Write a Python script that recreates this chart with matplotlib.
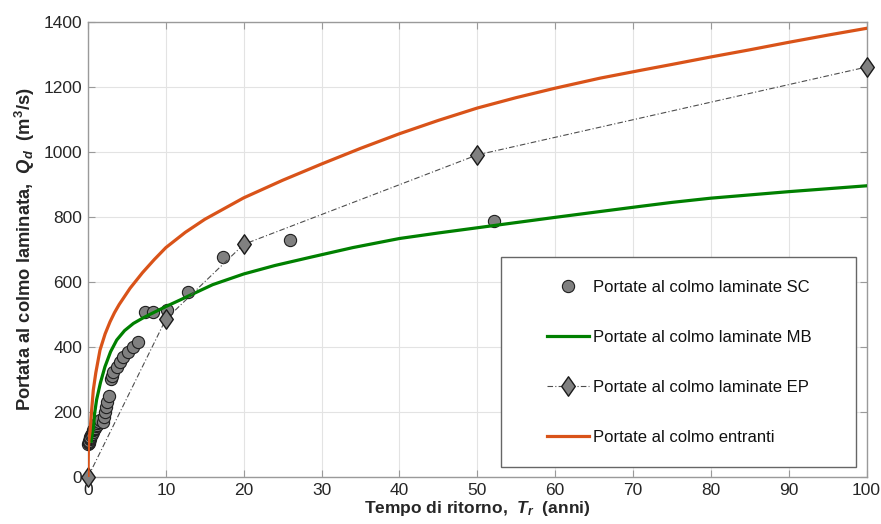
import numpy as np
import matplotlib
matplotlib.use('Agg')
import matplotlib.pyplot as plt
from matplotlib.patches import Rectangle
from matplotlib.path import Path

plt.rcParams['font.family'] = ['Liberation Sans', 'DejaVu Sans']
plt.rcParams['mathtext.fontset'] = 'custom'
plt.rcParams['mathtext.rm'] = 'Liberation Sans:bold'
plt.rcParams['mathtext.it'] = 'Liberation Sans:italic:bold'
plt.rcParams['mathtext.bf'] = 'Liberation Sans:bold'

# portate laminate SC (punti)
T_sc = [0.05, 0.08, 0.1, 0.15, 0.2, 0.25, 0.3, 0.4, 0.5, 0.6, 0.7, 0.8, 0.9, 1.0,
        1.1, 1.2, 1.35, 1.5,
        1.89, 2.06, 2.18, 2.31, 2.48, 2.74, 2.91, 3.04, 3.25, 3.69, 4.11, 4.54,
        5.18, 5.74, 6.47, 7.33, 8.4, 10.1, 12.9, 17.3, 26.0, 52.1]
Q_sc = [100, 104, 108, 112, 116, 120, 124, 128, 132, 138, 144, 148, 152, 156,
        160, 165, 170, 175,
        170, 185, 201, 216, 231, 249, 300, 310, 324, 337, 354, 370,
        385, 400, 416, 508, 508, 514, 568, 677, 729, 787]

# portate laminate MB
T_mb = [0.4, 0.68, 0.85, 1.1, 1.6, 2.18, 2.9, 3.69, 4.7, 5.83, 7, 7.97, 9.25,
        10.1, 12, 13.5, 16, 20, 24, 28.5, 34, 40, 45, 50, 55, 60, 65.8, 71,
        75, 80, 85, 90, 95, 100]
Q_mb = [110, 150, 195, 237, 290, 339, 385, 421, 450, 472, 488, 500, 515,
        525, 546, 563, 591, 624, 650, 675, 705, 733, 750, 766, 782, 798, 816, 832,
        844, 857, 867, 877, 886, 895]

# portate laminate EP
T_ep = [0, 10, 20, 50, 100]
Q_ep = [0, 485, 715, 990, 1260]

# portate entranti
T_in = [0, 0.05, 0.12, 0.26, 0.47, 0.68, 1.0, 1.54, 2.2, 2.83, 3.4, 4, 5.4, 7,
        8.5, 10, 12.5, 15, 20, 25, 30, 35, 40, 45, 50, 55, 60, 65.8, 71, 75,
        80, 85, 90, 95, 100]
Q_in = [0, 90, 115, 140, 206, 267, 320, 390, 440, 477, 505, 530, 580, 628,
        668, 705, 752, 792, 858, 912, 962, 1010, 1055, 1096, 1134, 1166, 1195,
        1226, 1250, 1268, 1291, 1313, 1336, 1358, 1379]

fig = plt.figure(figsize=(8.81, 5.24), dpi=100)
ax = fig.add_axes([88/881, 47/524, 778.5/881, 455.5/524])

diamond = Path([(0, -1), (0.7, 0), (0, 1), (-0.7, 0), (0, -1)],
               [Path.MOVETO, Path.LINETO, Path.LINETO, Path.LINETO, Path.CLOSEPOLY])

h1, = ax.plot(T_sc, Q_sc, 'o', ms=8.8, mfc='#808080', mec='#1f1f1f', mew=0.8,
              ls='none', clip_on=False, zorder=3, label='Portate al colmo laminate SC')
h2, = ax.plot(T_mb, Q_mb, '-', color='#008000', lw=2.3, zorder=4,
              label='Portate al colmo laminate MB')
h3, = ax.plot(T_ep, Q_ep, '-.', color='#4d4d4d', lw=0.8, marker=diamond, ms=14,
              mfc='#808080', mec='#1a1a1a', mew=1.0, clip_on=False, zorder=5,
              dashes=(5, 2, 1, 2), label='Portate al colmo laminate EP')
h4, = ax.plot(T_in, Q_in, '-', color='#D95319', lw=2.3, zorder=6,
              label='Portate al colmo entranti')

ax.set_xlim(0, 100)
ax.set_ylim(0, 1400)
ax.set_xticks(np.arange(0, 101, 10))
ax.set_yticks(np.arange(0, 1401, 200))
ax.grid(True, color='#e3e3e3', lw=0.8)
ax.set_axisbelow(True)
for sp in ax.spines.values():
    sp.set_color('#9a9a9a')
    sp.set_linewidth(1.0)
ax.tick_params(direction='in', length=5, width=0.8, color='#9a9a9a',
               top=True, right=True, labelsize=12.5, labelcolor='#262626', pad=4)

ax.set_xlabel('Tempo di ritorno,  $T_r$  (anni)', fontsize=12.5, fontweight='bold',
              color='#262626', labelpad=1)
ax.set_ylabel('Portata al colmo laminata,  $Q_d$  (m$^3$/s)', fontsize=13.2,
              fontweight='bold', color='#262626', labelpad=5)

# riquadro legenda
box = Rectangle((0.530, 0.0226), 0.457, 0.461, transform=ax.transAxes,
                facecolor='white', edgecolor='#666666', lw=1.0, zorder=10)
ax.add_patch(box)
leg = ax.legend(handles=[h1, h2, h3, h4], loc='upper left',
                bbox_to_anchor=(0.589, 0.432), frameon=False, fontsize=12,
                handlelength=2.52, handletextpad=0.27, labelspacing=2.09,
                borderpad=0, borderaxespad=0)
leg.set_zorder(11)
for t in leg.get_texts():
    t.set_color('#111111')

fig.savefig('out.png', dpi=100)
